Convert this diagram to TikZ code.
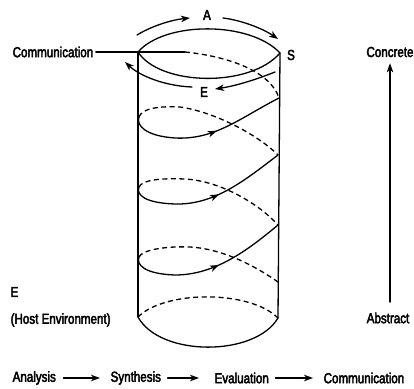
\documentclass[tikz,border=0pt]{standalone}
\usepackage{fontspec}
\setmainfont{Liberation Sans}[FakeStretch=0.8,FakeBold=3]
\usetikzlibrary{arrows.meta,decorations.markings}

\begin{document}
\begin{tikzpicture}[x=1pt,y=-1pt,
  line width=1.3pt, line cap=round, line join=round,
  lbl/.style={inner sep=0pt, font=\fontsize{14.5}{17}\selectfont},
  tip/.style={-{Stealth[length=9pt,width=6.5pt,inset=2.5pt]}},
  hidden/.style={dash pattern=on 5pt off 3.5pt, line cap=butt},
  midarrow/.style={postaction={decorate},
    decoration={markings,mark=at position #1 with {\arrow{Stealth[length=9pt,width=6.5pt,inset=2.5pt]}}}}
]
\useasboundingbox (0,0) rectangle (414,388);

% labels
\node[lbl,anchor=west] (comm) at (12,52) {Communication};
\node[lbl] (A) at (207,15) {A};
\node[lbl] (S) at (291,55) {S};
\node[lbl] (Etop) at (204,92) {E};
\node[lbl] (concrete) at (390,52) {Concrete};
\node[lbl] (abstract) at (388,318) {Abstract};
\node[lbl,anchor=west] (Ehost) at (10,292) {E};
\node[lbl,anchor=west] (host) at (10,320) {(Host Environment)};
\node[lbl,anchor=west] (analysis) at (12,378) {Analysis};
\node[lbl,anchor=west] (synthesis) at (110,378) {Synthesis};
\node[lbl,anchor=west] (evaluation) at (214,378) {Evaluation};
\node[lbl,anchor=west] (communication) at (323,378) {Communication};

% cylinder outline
\coordinate (TL) at (138,52);  \coordinate (TR) at (280,53);
\coordinate (BL) at (138,317); \coordinate (BR) at (278,318);
\draw (TL) .. controls (165,21) and (250,21) .. (TR);
\draw (TL) .. controls (160,86) and (250,88) .. (TR);
\draw (TL) -- (BL);
\draw (TR) -- (BR);
\draw[hidden] (BL) .. controls (165,290) and (250,290) .. (BR);
\draw (BL) .. controls (160,357) and (255,357) .. (BR);

% spiral: turning points on the two sides
\coordinate (C0) at (185,52);
\coordinate (R0) at (279,98);
\coordinate (L1) at (139,117); \coordinate (R1) at (278,155);
\coordinate (L2) at (139,187); \coordinate (R2) at (278,225);
\coordinate (L3) at (139,257); \coordinate (R3) at (278,282);

\draw ([xshift=2pt]comm.east) -- (C0);
\draw[hidden] (C0) .. controls (225,56) and (270,70) .. (R0);
\draw[midarrow=0.56] (L1) .. controls (136,125) and (145,136) .. (175,138)
  .. controls (215,140) and (240,118) .. (R0);
\draw[hidden] (L1) .. controls (142,108) and (160,106) .. (180,107)
  .. controls (215,112) and (258,135) .. (R1);
\draw[midarrow=0.56] (L2) .. controls (136,195) and (145,203) .. (175,204)
  .. controls (215,205) and (245,180) .. (R1);
\draw[hidden] (L2) .. controls (142,180) and (160,178) .. (185,179)
  .. controls (220,181) and (258,203) .. (R2);
\draw[midarrow=0.56] (L3) .. controls (136,265) and (145,274) .. (175,275)
  .. controls (215,275) and (248,250) .. (R2);
\draw[hidden] (L3) .. controls (142,250) and (165,246) .. (190,247)
  .. controls (225,249) and (258,268) .. (R3);

% A-S-E cycle arrows around the top
\coordinate (a1) at (137,35);  \coordinate (a2) at (190,18);
\coordinate (s1) at (223,18);  \coordinate (s2) at (278,39);
\coordinate (e1) at (275,72);  \coordinate (e2) at (215,89);
\coordinate (c1) at (192,87);  \coordinate (c2) at (125,62);
\draw[tip] (a1) .. controls (150,27) and (170,20) .. (a2);
\draw[tip] (s1) .. controls (240,20) and (262,28) .. (s2);
\draw[tip] (e1) .. controls (255,80) and (235,86) .. (e2);
\draw[tip] (c1) .. controls (165,86) and (140,76) .. (c2);

% abstract -> concrete scale
\draw[tip] ([yshift=10pt]abstract.north -| concrete.south)
  -- ([yshift=-5.5pt]concrete.south);

% process sequence
\draw[tip] ([xshift=7pt]analysis.east) -- ([xshift=-10pt]synthesis.west);
\draw[tip] ([xshift=6pt]synthesis.east) -- ([xshift=-15pt]evaluation.west);
\draw[tip] ([xshift=6pt]evaluation.east) -- ([xshift=-10pt]communication.west);
\end{tikzpicture}
\end{document}
